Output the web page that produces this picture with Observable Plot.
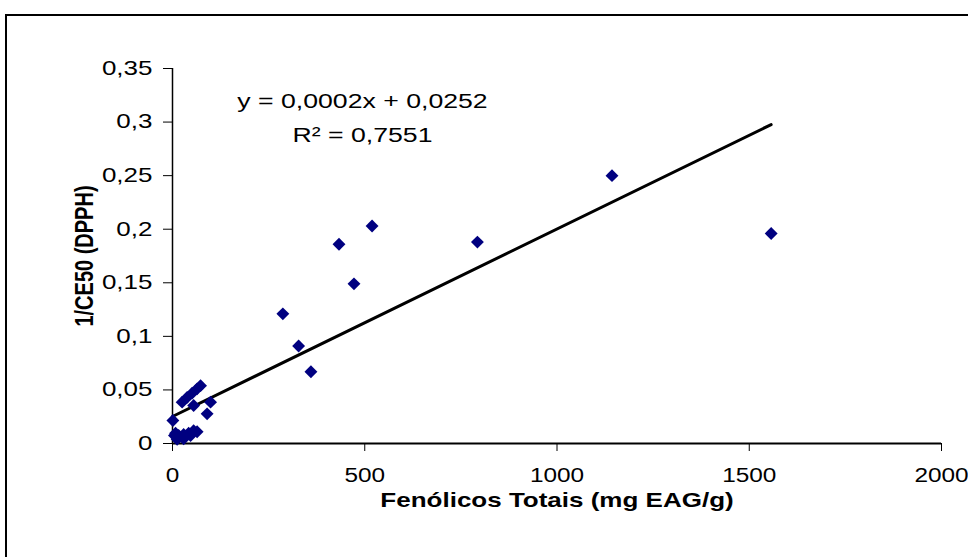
<!DOCTYPE html>
<html>
<head>
<meta charset="utf-8">
<script src="https://cdn.jsdelivr.net/npm/d3@7"></script>
<script src="https://cdn.jsdelivr.net/npm/@observablehq/plot@0.6"></script>
<style>
  html, body { margin: 0; padding: 0; background: #fff; overflow: hidden; }
  #wrap { position: relative; width: 968px; height: 557px; }
  #border { position: absolute; left: 5px; top: 14px; width: 1000px; height: 600px; border: 2px solid #000; box-sizing: border-box; pointer-events: none; }
  #chart { position: absolute; left: 0; top: 0; }
</style>
</head>
<body>
<div id="wrap"><div id="chart"></div><div id="border"></div></div>
<script>
// Data
const fenolicos = [1557, 1143, 793, 519, 433, 472, 287, 328, 360,
  73, 64, 51, 38, 25, 55, 99, 90, 1, 5,
  8, 16, 29, 42, 55, 64, 47, 29, 12];
const dpph = [0.196, 0.250, 0.188, 0.203, 0.186, 0.149, 0.121, 0.091, 0.067,
  0.054, 0.051, 0.047, 0.043, 0.0386, 0.0355, 0.0386, 0.0277, 0.0215, 0.0075,
  0.0096, 0.0075, 0.0085, 0.0096, 0.012, 0.011, 0.0075, 0.0044, 0.004];
const xTicks = [0, 500, 1000, 1500, 2000];
const yTicks = [0, 0.05, 0.1, 0.15, 0.2, 0.25, 0.3, 0.35];
const fitIntercept = 0.0252;
const fitSlope = 0.000175;
const equationText = "y = 0,0002x + 0,0252";
const r2Text = "R\u00B2 = 0,7551";
const xLabel = "Fenólicos Totais (mg EAG/g)";
const yLabel = "1/CE50 (DPPH)";

const points = fenolicos.map((x, i) => ({x, y: dpph[i]}));
const xMax = d3.max(fenolicos);
const fitLine = [0, xMax].map(x => ({x, y: fitIntercept + fitSlope * x}));

const font = "'Liberation Sans', Arial, sans-serif";
const FS = 20;

const chart = Plot.plot({
  width: 968,
  height: 557,
  marginLeft: 172,
  marginRight: 27,
  marginTop: 68,
  marginBottom: 114,
  style: { fontFamily: font, fontSize: FS + "px", color: "#000", background: "transparent" },
  x: { domain: [0, 2000], label: null },
  y: { domain: [0, 0.35], label: null },
  marks: [
    Plot.axisX({ ticks: xTicks, tickFormat: d => String(d), tickSize: 8, tickPadding: 17, label: null, fontSize: 19.5 }),
    Plot.axisY({ ticks: yTicks, tickFormat: d => String(d).replace(".", ","), tickSize: 9, tickPadding: 11, label: null, fontSize: FS }),
    Plot.ruleY([0], { stroke: "#000", strokeWidth: 2 }),
    Plot.ruleX([0], { stroke: "#000", strokeWidth: 1.5 }),
    Plot.line(fitLine, { x: "x", y: "y", stroke: "#000", strokeWidth: 3 }),
    Plot.dot(points, { x: "x", y: "y", symbol: "diamond2", r: 5.8, fill: "#000080", stroke: "none" }),
    Plot.text([equationText], { frameAnchor: "top-left", textAnchor: "middle", lineAnchor: "middle", dx: 190, dy: 33, fontSize: 20.5, fill: "#000" }),
    Plot.text([r2Text], { frameAnchor: "top-left", textAnchor: "middle", lineAnchor: "middle", dx: 190, dy: 67, fontSize: 20.5, fill: "#000" }),
    Plot.text([xLabel], { frameAnchor: "bottom", textAnchor: "middle", lineAnchor: "middle", dy: 57, fontSize: FS, fontWeight: "bold", fill: "#000" }),
    Plot.text([yLabel], { frameAnchor: "left", textAnchor: "middle", lineAnchor: "middle", dx: -88, rotate: -90, fontSize: FS, fontWeight: "bold", fill: "#000" })
  ]
});
document.getElementById("chart").appendChild(chart);

// The reference's lettering is horizontally widened; widen each text around its anchor.
const xTickLabels = new Set(chart.querySelectorAll('g[aria-label="x-axis tick label"] text'));
chart.querySelectorAll("text").forEach(t => {
  const stretch = xTickLabels.has(t) ? 1.25 : 1.3;
  const tr = t.getAttribute("transform");
  if (tr && /^\s*translate\([^)]*\)/.test(tr)) {
    t.setAttribute("transform", tr.replace(/^\s*(translate\([^)]*\))/, `$1 scale(${stretch},1)`));
  } else if (tr) {
    t.setAttribute("transform", `scale(${stretch},1) ` + tr);
  } else {
    const x = +(t.getAttribute("x") || 0), y = +(t.getAttribute("y") || 0);
    t.setAttribute("x", 0); t.setAttribute("y", 0);
    t.setAttribute("transform", `translate(${x},${y}) scale(${stretch},1)`);
  }
});
</script>
</body>
</html>
